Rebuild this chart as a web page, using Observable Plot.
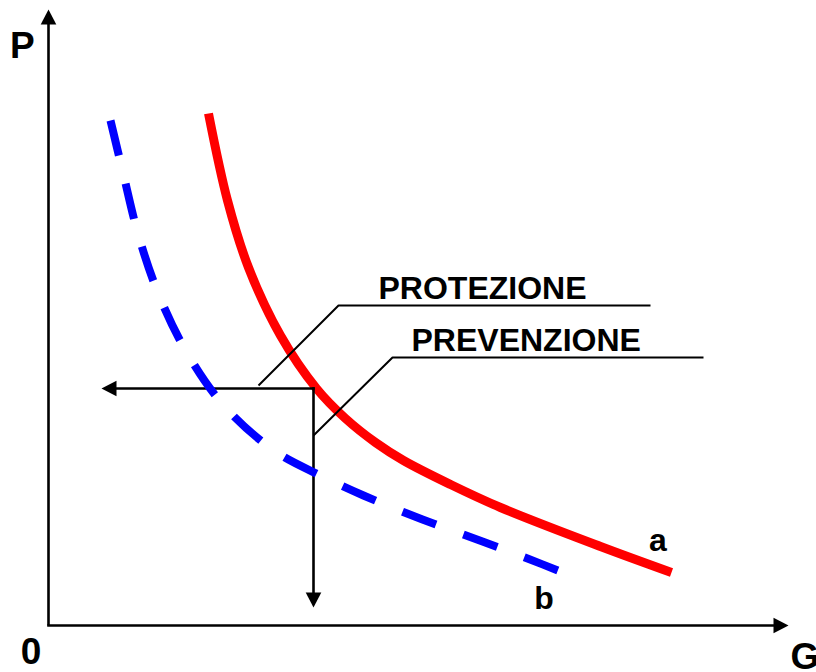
<!DOCTYPE html>
<html>
<head>
<meta charset="utf-8">
<script src="https://cdn.jsdelivr.net/npm/d3@7"></script>
<script src="https://cdn.jsdelivr.net/npm/@observablehq/plot@0.6"></script>
<style>
  html, body { margin: 0; padding: 0; background: #fff; }
  #chart svg { display: block; }
</style>
</head>
<body>
<div id="chart"></div>
<script>
// Units: G and P measured from the origin of the two axes.
// Curve a (red, solid)
const curveA_G = [160, 179, 200, 232, 268, 297, 327, 355, 402, 452, 552, 623];
const curveA_P = [512, 425, 358, 290, 237, 207, 183, 165, 141, 118, 79, 53];
// Curve b (blue, dashed)
const curveB_G = [62, 74, 90, 111, 140, 177, 227, 272, 315, 374, 434, 479, 517];
const curveB_P = [505, 455, 390, 329, 270, 218, 174, 150, 130, 106, 84, 67, 52];

// Axis extents (arrow tips)
const axisG = [0, 740];
const axisP = [0, 616];

// Reading point where the two black arrows start
const readG = [265];
const readP = [237];
const arrowEndG = [53];   // horizontal arrow tip (towards P axis)
const arrowEndP = [18];   // vertical arrow tip (towards G axis)

// Leader lines for labels: [start, elbow, end]
const protezioneLeaderG = [210, 290, 602];
const protezioneLeaderP = [240, 320, 320];
const prevenzioneLeaderG = [265, 344, 655];
const prevenzioneLeaderP = [190, 268, 268];

// Text labels
const labelText = ["P", "0", "G", "a", "b", "PROTEZIONE", "PREVENZIONE"];
const labelG    = [-38.5, -17.5, 742, 609.5, 495.5, 330, 363];
const labelP    = [568, -38, -43, 75, 17, 327, 275];
const labelSize = [37, 37, 37, 32, 32, 32, 32];
const labelAnchor = ["start", "middle", "start", "middle", "middle", "start", "start"];

const curveA = curveA_G.map((g, i) => ({G: g, P: curveA_P[i]}));
const curveB = curveB_G.map((g, i) => ({G: g, P: curveB_P[i]}));
const leaders = [
  ...protezioneLeaderG.map((g, i) => ({G: g, P: protezioneLeaderP[i], k: "protezione"})),
  ...prevenzioneLeaderG.map((g, i) => ({G: g, P: prevenzioneLeaderP[i], k: "prevenzione"}))
];
const labels = labelText.map((t, i) => ({t, G: labelG[i], P: labelP[i], s: labelSize[i], a: labelAnchor[i]}));

const HL = 15, HW = 7.8;
const headUp    = {draw(c){ c.moveTo(0,0); c.lineTo(HW,HL); c.lineTo(-HW,HL); c.closePath(); }};
const headDown  = {draw(c){ c.moveTo(0,0); c.lineTo(HW,-HL); c.lineTo(-HW,-HL); c.closePath(); }};
const headLeft  = {draw(c){ c.moveTo(0,0); c.lineTo(HL,HW); c.lineTo(HL,-HW); c.closePath(); }};
const headRight = {draw(c){ c.moveTo(0,0); c.lineTo(-HL,HW); c.lineTo(-HL,-HW); c.closePath(); }};

const font = "Liberation Sans, Arial, Helvetica, sans-serif";

const textMarks = ["start", "middle"].flatMap(anchor =>
  [32, 37].map(size => Plot.text(labels.filter(d => d.a === anchor && d.s === size), {
    x: "G", y: "P", text: "t", textAnchor: anchor, lineAnchor: "bottom",
    fontSize: size, fontWeight: "bold", fontFamily: font, fill: "#000"
  }))
);

const chart = Plot.plot({
  width: 816,
  height: 672,
  margin: 0,
  x: {domain: [-48, 768], range: [0, 816], axis: null},
  y: {domain: [-47, 625], range: [672, 0], axis: null},
  style: {background: "#fff"},
  marks: [
    // axes
    Plot.link([{x1: 0, y1: 0, x2: 0, y2: axisP[1] - 8}], {x1: "x1", y1: "y1", x2: "x2", y2: "y2", stroke: "#000", strokeWidth: 2.6, strokeLinecap: "butt"}),
    Plot.link([{x1: 0, y1: 0, x2: axisG[1] - 8, y2: 0}], {x1: "x1", y1: "y1", x2: "x2", y2: "y2", stroke: "#000", strokeWidth: 2.6, strokeLinecap: "square"}),
    Plot.dot([{G: 0, P: axisP[1]}], {x: "G", y: "P", symbol: headUp, fill: "#000", stroke: null, r: 5}),
    Plot.dot([{G: axisG[1], P: 0}], {x: "G", y: "P", symbol: headRight, fill: "#000", stroke: null, r: 5}),
    // curve a
    Plot.line(curveA, {x: "G", y: "P", curve: "catmull-rom", stroke: "#ff0000", strokeWidth: 9, strokeLinecap: "butt", strokeLinejoin: "round"}),
    // reading arrows
    Plot.link([{x1: readG[0], y1: readP[0], x2: arrowEndG[0] + 8, y2: readP[0]}], {x1: "x1", y1: "y1", x2: "x2", y2: "y2", stroke: "#000", strokeWidth: 2.6, strokeLinecap: "square"}),
    Plot.link([{x1: readG[0], y1: readP[0], x2: readG[0], y2: arrowEndP[0] + 8}], {x1: "x1", y1: "y1", x2: "x2", y2: "y2", stroke: "#000", strokeWidth: 2.6, strokeLinecap: "square"}),
    Plot.dot([{G: arrowEndG[0], P: readP[0]}], {x: "G", y: "P", symbol: headLeft, fill: "#000", stroke: null, r: 5}),
    Plot.dot([{G: readG[0], P: arrowEndP[0]}], {x: "G", y: "P", symbol: headDown, fill: "#000", stroke: null, r: 5}),
    // curve b
    Plot.line(curveB, {x: "G", y: "P", curve: "catmull-rom", stroke: "#0000ff", strokeWidth: 8, strokeDasharray: "36,29", strokeLinecap: "butt"}),
    // leaders
    Plot.line(leaders, {x: "G", y: "P", z: "k", stroke: "#000", strokeWidth: 2, strokeLinecap: "butt", strokeLinejoin: "miter"}),
    ...textMarks
  ]
});
document.getElementById("chart").appendChild(chart);
</script>
</body>
</html>
